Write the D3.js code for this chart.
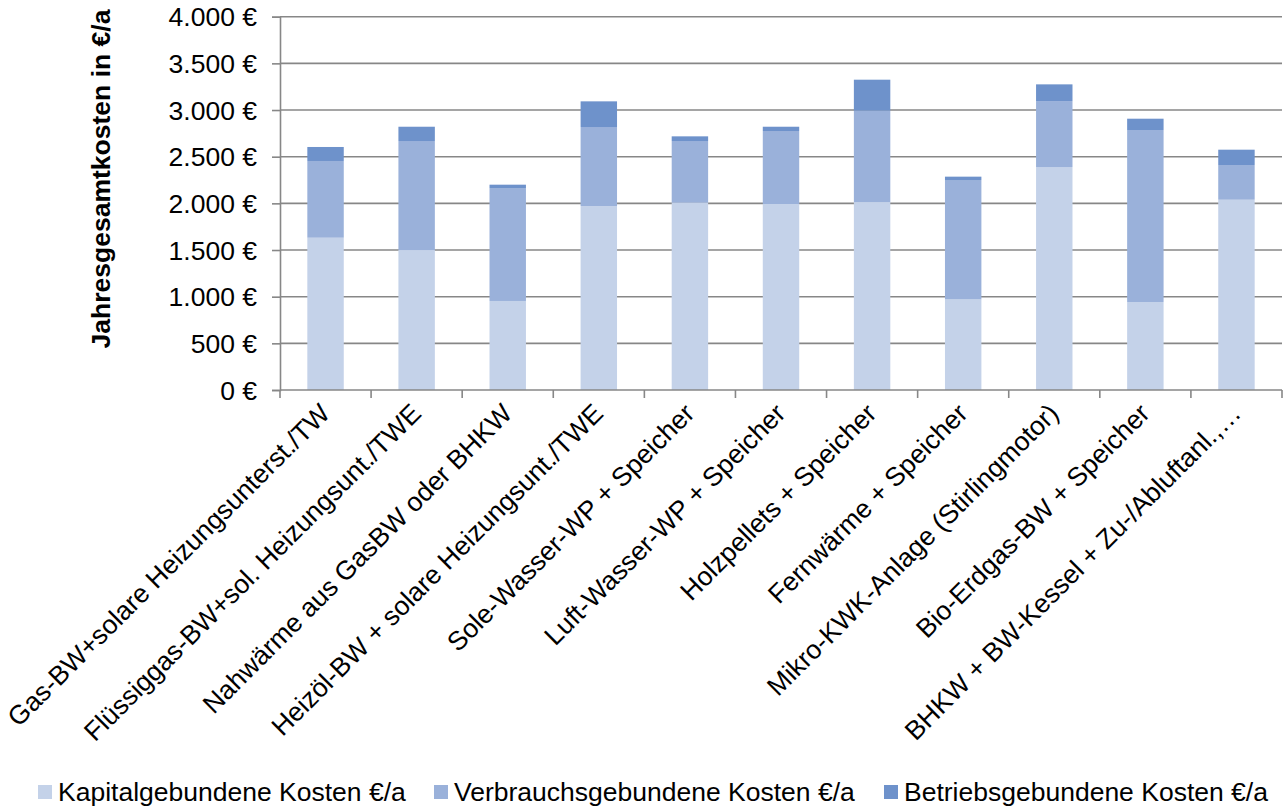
<!DOCTYPE html>
<html>
<head>
<meta charset="utf-8">
<script src="https://cdn.jsdelivr.net/npm/d3@7"></script>
<style>
  html, body { margin: 0; padding: 0; background: #fff; }
  svg { display: block; font-family: "Liberation Sans", Arial, sans-serif; }
</style>
</head>
<body>
<svg id="chart" width="1283" height="809"></svg>
<script>
// Heating systems compared by annual total cost
const categories = [
  "Gas-BW+solare Heizungsunterst./TW",
  "Flüssiggas-BW+sol. Heizungsunt./TWE",
  "Nahwärme aus GasBW oder BHKW",
  "Heizöl-BW + solare Heizungsunt./TWE",
  "Sole-Wasser-WP + Speicher",
  "Luft-Wasser-WP + Speicher",
  "Holzpellets + Speicher",
  "Fernwärme + Speicher",
  "Mikro-KWK-Anlage (Stirlingmotor)",
  "Bio-Erdgas-BW + Speicher",
  "BHKW + BW-Kessel + Zu-/Abluftanl.,…"
];
const kapital    = [1632, 1500, 954, 1971, 2007, 1993, 2014, 971, 2389, 943, 2039];
const verbrauch  = [822, 1168, 1210, 847, 661, 782, 979, 1279, 707, 1843, 372];
const betrieb    = [150, 153, 36, 275, 50, 46, 332, 36, 179, 121, 164];
const seriesNames = [
  "Kapitalgebundene Kosten €/a",
  "Verbrauchsgebundene Kosten €/a",
  "Betriebsgebundene Kosten €/a"
];
const yTicks = [0, 500, 1000, 1500, 2000, 2500, 3000, 3500, 4000];
const colors = ["#c4d2e9", "#9ab1da", "#6e92cb"];

const svg = d3.select("#chart");
const plot = { left: 280, right: 1282, top: 16.7, bottom: 390 };
const fontSize = 26.5;

const rows = categories.map((c, i) => ({
  cat: c, k: kapital[i], v: verbrauch[i], b: betrieb[i]
}));
const stack = d3.stack().keys(["k", "v", "b"])(rows);

const x = d3.scaleBand()
  .domain(categories)
  .range([plot.left, plot.right])
  .paddingInner(0.6)
  .paddingOuter(0.3);

const y = d3.scaleLinear()
  .domain([0, 4000])
  .range([plot.bottom, plot.top]);

const fmt = v => d3.format(",")(v).replace(/,/g, ".") + " €";

// horizontal gridlines
svg.append("g")
  .selectAll("line")
  .data(yTicks.filter(t => t > 0))
  .join("line")
  .attr("x1", plot.left).attr("x2", plot.right)
  .attr("y1", d => y(d)).attr("y2", d => y(d))
  .attr("stroke", "#878787")
  .attr("stroke-width", 1.6);

// stacked bars
svg.append("g")
  .selectAll("g")
  .data(stack)
  .join("g")
  .attr("fill", (d, i) => colors[i])
  .selectAll("rect")
  .data(d => d)
  .join("rect")
  .attr("x", d => x(d.data.cat))
  .attr("width", x.bandwidth())
  .attr("y", d => y(d[1]))
  .attr("height", d => y(d[0]) - y(d[1]));

// y axis
const yAxis = d3.axisLeft(y)
  .tickValues(yTicks)
  .tickFormat(fmt)
  .tickSize(8)
  .tickPadding(15);
const gy = svg.append("g")
  .attr("transform", `translate(${plot.left},0)`)
  .call(yAxis);
gy.select(".domain").attr("stroke", "#878787").attr("stroke-width", 1.6);
gy.selectAll(".tick line").attr("stroke", "#878787").attr("stroke-width", 1.6);
gy.selectAll(".tick text")
  .attr("font-size", fontSize)
  .attr("font-family", "Liberation Sans, Arial, sans-serif")
  .attr("fill", "#000")
  .attr("dy", "0.34em");

// x axis: tick marks at category boundaries
const step = x.step();
const boundaries = d3.range(categories.length + 1).map(i => plot.left + i * step);
svg.append("line")
  .attr("x1", plot.left).attr("x2", plot.right)
  .attr("y1", plot.bottom).attr("y2", plot.bottom)
  .attr("stroke", "#878787").attr("stroke-width", 1.6);
svg.append("g")
  .selectAll("line")
  .data(boundaries)
  .join("line")
  .attr("x1", d => d).attr("x2", d => d)
  .attr("y1", plot.bottom).attr("y2", plot.bottom + 8)
  .attr("stroke", "#878787").attr("stroke-width", 1.6);

// rotated category labels
svg.append("g")
  .selectAll("text")
  .data(categories)
  .join("text")
  .attr("transform", d => `translate(${x(d) + x.bandwidth() / 2 + 6},${plot.bottom + 25}) rotate(-45)`)
  .attr("text-anchor", "end")
  .attr("font-size", fontSize)
  .attr("fill", "#000")
  .text(d => d);

// y axis title
svg.append("text")
  .attr("transform", `translate(110,179) rotate(-90)`)
  .attr("text-anchor", "middle")
  .attr("font-size", fontSize)
  .attr("font-weight", "bold")
  .attr("fill", "#000")
  .text("Jahresgesamtkosten in €/a");

// legend
const legendX = [38, 434, 884];
const legend = svg.append("g")
  .selectAll("g")
  .data(seriesNames)
  .join("g")
  .attr("transform", (d, i) => `translate(${legendX[i]},785)`);
legend.append("rect")
  .attr("width", 14).attr("height", 14)
  .attr("fill", (d, i) => colors[i]);
legend.append("text")
  .attr("x", 20).attr("y", 16)
  .attr("font-size", fontSize)
  .attr("fill", "#000")
  .text(d => d);
</script>
</body>
</html>
